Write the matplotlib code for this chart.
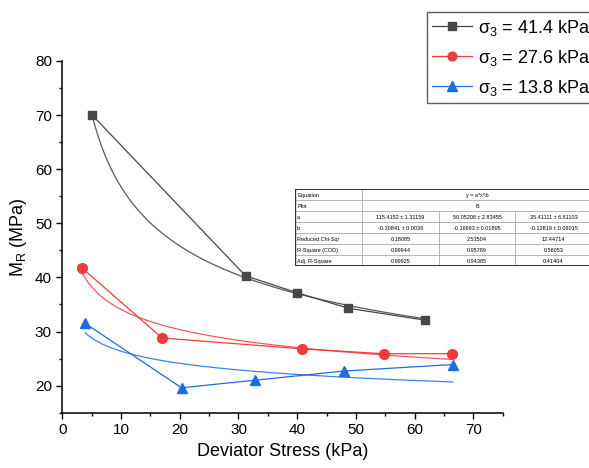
import matplotlib
matplotlib.use("Agg")
import matplotlib.pyplot as plt
import numpy as np
from matplotlib.ticker import MultipleLocator

plt.rcParams['font.family'] = ['Liberation Sans', 'DejaVu Sans']
plt.rcParams['mathtext.fontset'] = 'custom'
plt.rcParams['mathtext.rm'] = 'Liberation Sans'
plt.rcParams['mathtext.it'] = 'Liberation Sans:italic'

# measured points (deviator stress kPa, resilient modulus MPa)
x_414 = [5.0, 31.2, 39.9, 48.7, 61.8]
y_414 = [70.1, 40.3, 37.2, 34.3, 32.1]
x_276 = [3.3, 17.0, 40.8, 54.7, 66.3]
y_276 = [41.8, 28.8, 26.8, 25.9, 25.9]
x_138 = [3.9, 20.3, 32.8, 48.0, 66.5]
y_138 = [31.5, 19.6, 21.0, 22.7, 23.9]

labels = ['\u03c3$_3$ = 41.4 kPa', '\u03c3$_3$ = 27.6 kPa', '\u03c3$_3$ = 13.8 kPa']

# power fit y = a*x^b, parameters from the fit table
fit_a = [115.4152, 50.05208, 35.41111]
fit_b = [-0.30841, -0.16693, -0.12819]

table_rows = ['Equation', 'Plot', 'a', 'b', 'Reduced Chi-Sqr', 'R-Square (COD)', 'Adj. R-Square']
col_a = ['115.4152 \u00b1 1.31159', '50.05208 \u00b1 2.83455', '35.41111 \u00b1 6.61103']
col_b = ['-0.30841 \u00b1 0.0039', '-0.16693 \u00b1 0.01895', '-0.12819 \u00b1 0.06015']
col_chi = ['0.18085', '2.53504', '12.44714']
col_r2 = ['0.99944', '0.95789', '0.56053']
col_adj = ['0.99925', '0.94385', '0.41404']

colors = ['#474747', '#ef3b3b', '#1c6ee0']
fit_colors = ['#5a5a5a', '#f25a5a', '#3d84e6']
markers = ['s', 'o', '^']
msizes = [6.3, 7, 7.5]

fig = plt.figure(figsize=(5.89, 4.68), dpi=100)
ax = fig.add_axes([0.1058, 0.1182, 0.7477, 0.7515])

xs = [x_414, x_276, x_138]
ys = [y_414, y_276, y_138]
handles = []
for i in range(3):
    h, = ax.plot(xs[i], ys[i], color=colors[i], lw=0.9, marker=markers[i],
                 ms=msizes[i], mec=colors[i], mfc=colors[i], label=labels[i], zorder=3)
    handles.append(h)
    xf = np.linspace(xs[i][0], xs[i][-1], 200)
    ax.plot(xf, fit_a[i] * xf ** fit_b[i], color=fit_colors[i], lw=0.9, zorder=2)

ax.set_xlim(0, 75)
ax.set_ylim(15, 80)
ax.xaxis.set_minor_locator(MultipleLocator(5))
ax.yaxis.set_major_locator(MultipleLocator(10))
ax.yaxis.set_minor_locator(MultipleLocator(5))
ax.set_xticks([0, 10, 20, 30, 40, 50, 60, 70])
ax.tick_params(which='major', direction='out', length=4, width=1, labelsize=11)
ax.tick_params(which='minor', direction='out', length=2.5, width=1)
for s in ['top', 'right']:
    ax.spines[s].set_visible(False)
for s in ['left', 'bottom']:
    ax.spines[s].set_linewidth(1.1)
ax.set_xlabel('Deviator Stress (kPa)', fontsize=13)
ax.set_ylabel(r'M$_\mathregular{R}$ (MPa)', fontsize=13)

leg = fig.legend(handles=handles, loc='upper left', bbox_to_anchor=(426.7 / 589, 1 - 12.3 / 468),
                 fontsize=13, frameon=True, fancybox=False, edgecolor='#333333',
                 handlelength=2.2, borderaxespad=0, labelspacing=0.55, handletextpad=0.35,
                 borderpad=0.3, markerscale=0.9)
leg.get_frame().set_linewidth(1.0)

# fit results table
tax = fig.add_axes([295 / 589, (468 - 266) / 468, (592 - 295) / 589, 77 / 468])
tax.set_xlim(0, 297)
tax.set_ylim(7, 0)
tax.axis('off')
cols = [0, 67, 144, 220, 297]
grid = '#aaaaaa'
for r in range(1, 7):
    tax.plot([0, 297], [r, r], color=grid, lw=0.6)
tax.plot([67, 67], [0, 7], color=grid, lw=0.6)
for c in cols[2:4]:
    tax.plot([c, c], [2, 7], color=grid, lw=0.6)
tax.plot([0, 297], [0, 0], color='#333333', lw=1.4)
tax.plot([0, 297], [7, 7], color='#333333', lw=1.4)
tax.plot([0, 0], [0, 7], color='#333333', lw=1.0)
for r, name in enumerate(table_rows):
    tax.text(2, r + 0.55, name, fontsize=4, va='center', ha='left')
tax.text(182, 0.55, 'y = a*x^b', fontsize=4, va='center', ha='center')
tax.text(182, 1.55, 'B', fontsize=4, va='center', ha='center')
for j, vals in enumerate([col_a, col_b, col_chi, col_r2, col_adj]):
    for k in range(3):
        tax.text((cols[k + 1] + cols[k + 2]) / 2, j + 2.55, vals[k], fontsize=4,
                 va='center', ha='center')

fig.savefig('out.png', dpi=100)
